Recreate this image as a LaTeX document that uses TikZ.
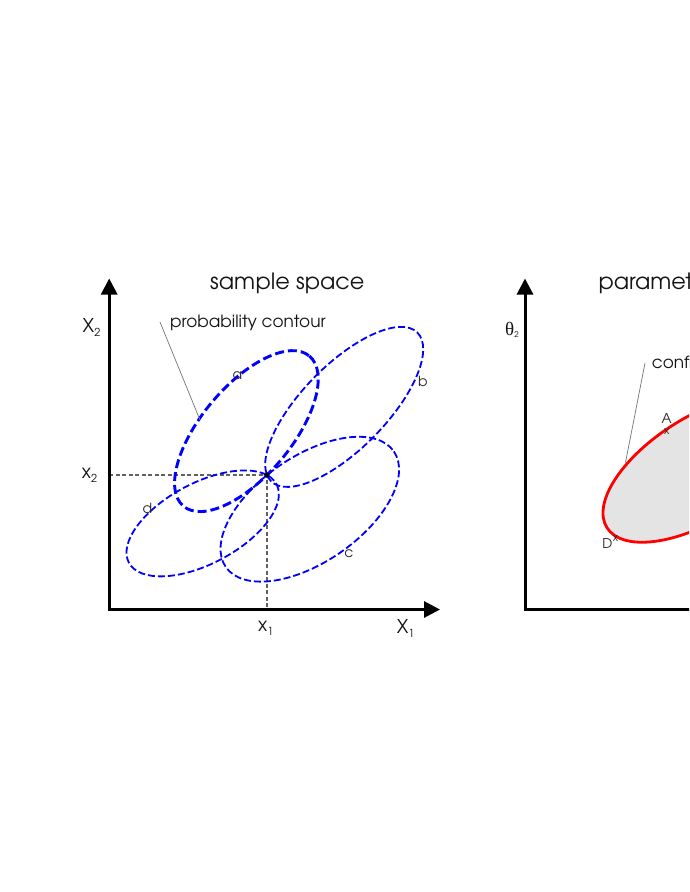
\documentclass[tikz,border=0pt]{standalone}
\usepackage{fontspec}
\setmainfont{TeX Gyre Adventor}
\newfontfamily\grkfont{Liberation Serif}
\usetikzlibrary{arrows.meta}
\newcommand\sbs[1]{\raisebox{-4pt}{\fontsize{11}{11}\selectfont #1}}
\newcommand\fsz[1]{\fontsize{#1}{#1}\selectfont}
\begin{document}
\begin{tikzpicture}[x=1pt,y=-1pt,
  axisline/.style={line width=3pt, line join=miter, {Triangle[length=16pt,width=16pt]}-{Triangle[length=16pt,width=16pt]}},
  guide/.style={draw=black!62, line width=1.1pt, dash pattern=on 4pt off 2.5pt},
  thincont/.style={draw=blue, line width=1.8pt, dash pattern=on 7pt off 3pt},
  thickcont/.style={draw=blue, line width=2.9pt, dash pattern=on 9pt off 4pt},
  leader/.style={draw=black!55, line width=0.7pt},
  lbl/.style={inner sep=0pt, text=black!92, anchor=base west},
  tiny/.style={inner sep=0pt, text=black!85, font=\fsz{14}},
  xmark/.style={inner sep=0pt, text=black!85, font=\fsz{11}},
  confreg/.style={draw=red, line width=2.8pt, fill={rgb,255:red,228;green,228;blue,228}}]
\useasboundingbox (0,0) rectangle (689,892);
\clip (0,0) rectangle (689,892);

% ---------- sample space ----------
\coordinate (O1) at (109.2,609.5);
\coordinate (Y1) at (109.2,278.5);
\coordinate (X1) at (440,609.5);
\coordinate (P) at (267,475);
\coordinate (Px) at (267,609.5);
\coordinate (Py) at (109.2,475);

\draw[guide] (Py) -- (P) -- (Px);

\draw[thincont, rotate around={28:(202.7,523.4)}] (202.7,523.4) ellipse (83.6 and 40.3);
\draw[thincont, rotate around={34.5:(309.8,509.2)}] (309.8,509.2) ellipse (102 and 53);
\draw[thincont, rotate around={45.5:(344.2,406.9)}] (344.2,406.9) ellipse (104.3 and 42);
\draw[thickcont, rotate around={50:(246.4,431.1)}] (246.4,431.1) ellipse (98 and 45);
\fill (P) circle (2.6);

\draw[axisline] (Y1) -- (O1) -- (X1);

\node[lbl, font=\fsz{22.4}] (t1) at (210,289) {sample space};
\node[lbl, font=\fsz{16.9}] (pc) at (170,327.5) {probability contour};
\coordinate (pcA) at (160,322);
\coordinate (pcB) at (200,420);
\draw[leader] (pcA) -- (pcB);

\node[lbl, font=\fsz{19}] (lX2) at (82.5,332) {X\sbs{2}};
\node[lbl, font=\fsz{19}] (lx2) at (81.7,478) {x\sbs{2}};
\node[lbl, font=\fsz{19}] (lx1) at (258,631.7) {x\sbs{1}};
\node[lbl, font=\fsz{19}] (lX1) at (396.7,633) {X\sbs{1}};

\node[tiny] (la) at (237.5,376) {a};
\node[tiny] (lb) at (423,381) {b};
\node[tiny] (lc) at (349,554) {c};
\node[tiny] (ld) at (147.5,508.5) {d};

% ---------- parameter space ----------
\coordinate (O2) at (525,609.5);
\coordinate (Y2) at (525,278.5);
\coordinate (X2) at (856,609.5);

\filldraw[confreg, rotate around={32:(701.9,468.3)}] (701.9,468.3) ellipse (112 and 52);

\draw[axisline] (Y2) -- (O2) -- (X2);

\node[lbl, font=\fsz{22.4}] (t2) at (598.3,289.5) {parameter space};
\node[lbl, font=\fsz{16.9}] (cr) at (651.7,368) {confidence region};
\coordinate (crA) at (645,363);
\coordinate (crB) at (625.5,462.5);
\draw[leader] (crA) -- (crB);

\node[lbl, font=\fsz{19}] (lth2) at (505,335) {{\grkfont θ}\raisebox{-2pt}{\fsz{8}2}};

\node[xmark] (mA) at (666.7,431.5) {x};
\node[tiny, font=\fsz{13.5}] (lA) at (666.7,418.5) {A};
\node[xmark] (mD) at (615.5,538) {x};
\node[tiny, font=\fsz{13.5}] (lD) at (607.5,543.3) {D};
\end{tikzpicture}
\end{document}
